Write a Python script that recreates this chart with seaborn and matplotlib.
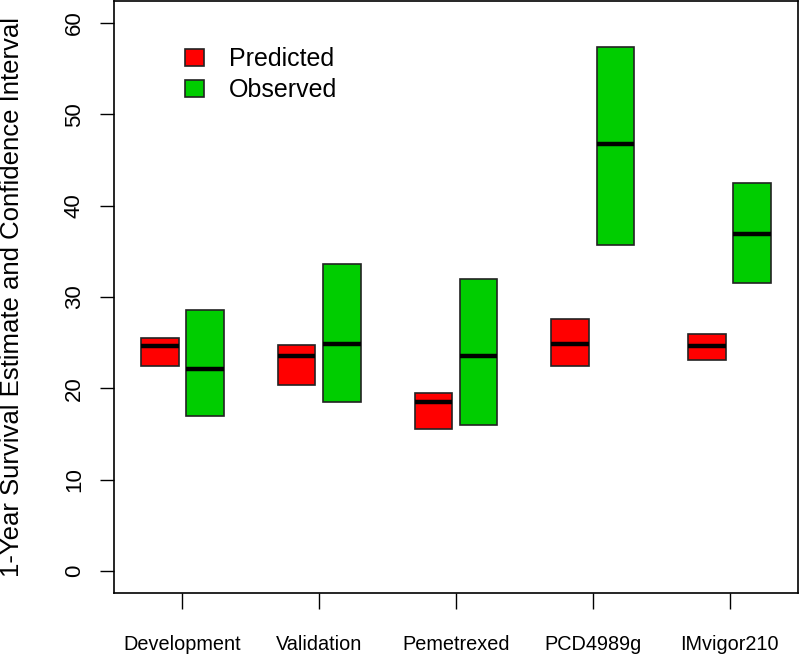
import pandas as pd
import matplotlib
matplotlib.use("Agg")
import matplotlib.pyplot as plt
import seaborn as sns

# dados (limite inferior, estimativa, limite superior)
cohorts = ["Development", "Validation", "Pemetrexed", "PCD4989g", "IMvigor210"]
pred_low = [22.5, 20.4, 15.5, 22.5, 23.1]
pred_est = [24.6, 23.5, 18.5, 24.9, 24.6]
pred_high = [25.5, 24.7, 19.5, 27.6, 26.0]
obs_low = [17.0, 18.5, 16.0, 35.7, 31.5]
obs_est = [22.1, 24.9, 23.5, 46.8, 36.9]
obs_high = [28.6, 33.6, 32.0, 57.4, 42.5]
series = ["Predicted", "Observed"]
colors = {"Predicted": "#FF0000", "Observed": "#00CD00"}

# low, low, est, high, high -> Q1 = low, mediana = est, Q3 = high
rows = []
for name, lo, est, hi in [("Predicted", pred_low, pred_est, pred_high),
                          ("Observed", obs_low, obs_est, obs_high)]:
    for c, a, m, b in zip(cohorts, lo, est, hi):
        for v in (a, a, m, b, b):
            rows.append({"cohort": c, "series": name, "value": v})
df = pd.DataFrame(rows)

sns.set_theme(style="ticks")
plt.rcParams["font.family"] = ["Liberation Sans", "DejaVu Sans"]
plt.rcParams["text.color"] = "black"

fig = plt.figure(figsize=(8, 6.56), dpi=100)
ax = fig.add_axes([0.1425, 0.096, 0.855, 0.9025])

sns.boxplot(data=df, x="cohort", y="value", hue="series", hue_order=series,
            order=cohorts, palette=colors, saturation=1, width=0.66, gap=0.164,
            whis=0, showcaps=False, showfliers=False, linecolor="#222222",
            linewidth=1.2, medianprops={"color": "black", "linewidth": 3.2},
            ax=ax)

ax.set_xlim(-0.5, 4.5)
ax.set_ylim(-2.4, 62.4)
ax.set_yticks(range(0, 61, 10))
ax.set_xlabel("")
ax.set_ylabel("1-Year Survival Estimate and Confidence Interval", fontsize=18.5,
              color="black")
ax.yaxis.set_label_coords(-0.132, 0.5)

ax.tick_params(axis="x", length=11.5, width=1, pad=19, labelsize=14.3,
               colors="black")
ax.tick_params(axis="y", length=10, width=1, pad=11, labelsize=16,
               colors="black", labelrotation=90)
for lab in ax.get_yticklabels():
    lab.set_va("center")

for sp in ax.spines.values():
    sp.set_visible(True)
    sp.set_color("black")
    sp.set_linewidth(1.2)

sns.move_legend(ax, "upper left", bbox_to_anchor=(0.086, 0.943), frameon=False,
                title=None, fontsize=18, handlelength=0.76, handleheight=0.68,
                handletextpad=1.0, labelspacing=0.28, borderpad=0,
                labelcolor="black")

fig.savefig("out.png", dpi=100, facecolor="white")
